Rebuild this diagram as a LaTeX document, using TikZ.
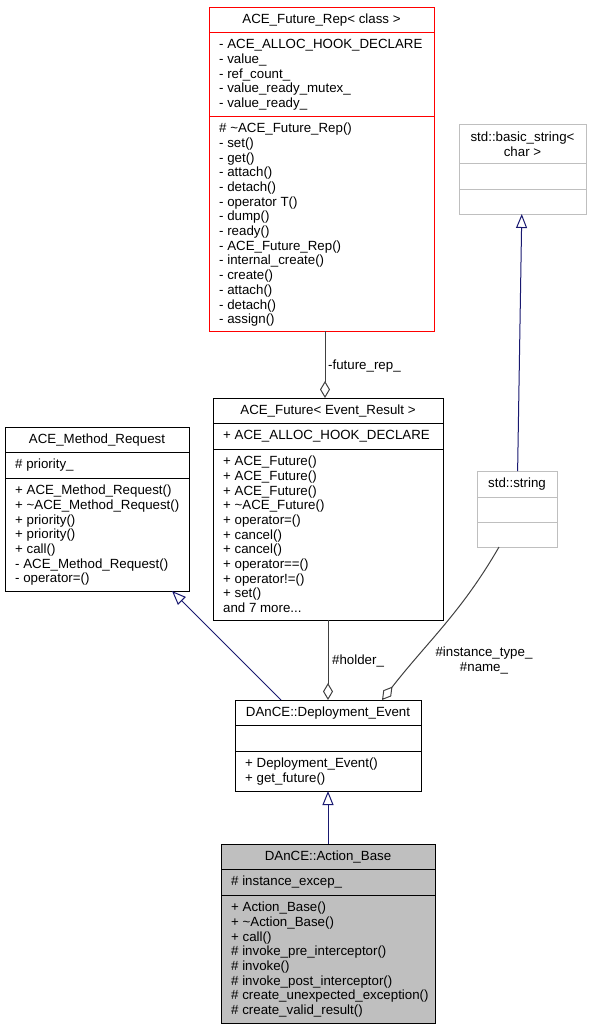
\documentclass[tikz,border=0pt]{standalone}
\usepackage{fontspec}
\setmainfont{Liberation Sans}
\usepackage{tikz}
\usetikzlibrary{arrows.meta}

\definecolor{edgeblue}{HTML}{191970}
\definecolor{edgegrey}{HTML}{404040}
\definecolor{boxgrey}{HTML}{BFBFBF}

\tikzset{
    classbox/.style={draw, line width=1pt, rectangle, inner sep=0pt, outer sep=0pt, anchor=north west},
    classname/.style={anchor=base, inner sep=0pt},
    members/.style={anchor=north west, align=left, inner sep=0pt},
    role/.style={inner sep=0pt},
    inherit/.style={draw=edgeblue, line width=1pt, -{Triangle[open, length=14pt, width=11pt]}},
    compose/.style={draw=edgegrey, line width=1pt, -{Diamond[open, length=17pt, width=10pt]}}
}

\begin{document}
\begin{tikzpicture}[x=1pt, y=-1pt, font=\fontsize{13.3}{14.7}\selectfont]
    \useasboundingbox (0,0) rectangle (591,1029);

    \node[classbox, draw=red, minimum width=225pt, minimum height=324pt] (rep) at (209,7) {};
    \draw[red, line width=1pt] (209,32) -- (434,32) (209,116) -- (434,116);
    \node[classname] (rep-name) at (321.5,23) {ACE\_Future\_Rep< class >};
    \node[members] (rep-attr) at (219,38.2) {\strut- ACE\_ALLOC\_HOOK\_DECLARE\\- value\_\\- ref\_count\_\\- value\_ready\_mutex\_\\- value\_ready\_};
    \node[members] (rep-ops) at (219,122.2) {\strut\# \textasciitilde ACE\_Future\_Rep()\\- set()\\- get()\\- attach()\\- detach()\\- operator T()\\- dump()\\- ready()\\- ACE\_Future\_Rep()\\- internal\_create()\\- create()\\- attach()\\- detach()\\- assign()};

    \node[classbox, draw=boxgrey, minimum width=127pt, minimum height=90pt] (bas) at (459,124) {};
    \draw[boxgrey, line width=1pt] (459,163) -- (586,163) (459,189) -- (586,189);
    \node[classname, anchor=north, align=center] (bas-name) at (522.5,131.2) {\strut std::basic\_string<\\char >};

    \node[classbox, minimum width=184pt, minimum height=164pt] (mreq) at (5,427) {};
    \draw[line width=1pt] (5,452) -- (189,452) (5,478) -- (189,478);
    \node[classname] (mreq-name) at (97,443.5) {ACE\_Method\_Request};
    \node[members] (mreq-attr) at (15,458.2) {\strut\# priority\_};
    \node[members] (mreq-ops) at (15,484.2) {\strut+ ACE\_Method\_Request()\\+ \textasciitilde ACE\_Method\_Request()\\+ priority()\\+ priority()\\+ call()\\- ACE\_Method\_Request()\\- operator=()};

    \node[classbox, minimum width=230pt, minimum height=222pt] (fut) at (213,398) {};
    \draw[line width=1pt] (213,423) -- (443,423) (213,449) -- (443,449);
    \node[classname] (fut-name) at (328,414.5) {ACE\_Future< Event\_Result >};
    \node[members] (fut-attr) at (223,429.2) {\strut+ ACE\_ALLOC\_HOOK\_DECLARE};
    \node[members] (fut-ops) at (223,455.2) {\strut+ ACE\_Future()\\+ ACE\_Future()\\+ ACE\_Future()\\+ \textasciitilde ACE\_Future()\\+ operator=()\\+ cancel()\\+ cancel()\\+ operator==()\\+ operator!=()\\+ set()\\and 7 more...};

    \node[classbox, draw=boxgrey, minimum width=80pt, minimum height=76pt] (str) at (477,471) {};
    \draw[boxgrey, line width=1pt] (477,497) -- (557,497) (477,522) -- (557,522);
    \node[classname] (str-name) at (517,487.5) {std::string};

    \node[classbox, minimum width=186pt, minimum height=91pt] (dep) at (235,700) {};
    \draw[line width=1pt] (235,725) -- (421,725) (235,751) -- (421,751);
    \node[classname] (dep-name) at (328,716.5) {DAnCE::Deployment\_Event};
    \node[members] (dep-ops) at (245,757.2) {\strut+ Deployment\_Event()\\+ get\_future()};

    \node[classbox, fill=boxgrey, minimum width=214pt, minimum height=179pt] (act) at (221,844) {};
    \draw[line width=1pt] (221,869) -- (435,869) (221,895) -- (435,895);
    \node[classname] (act-name) at (328,860.5) {DAnCE::Action\_Base};
    \node[members] (act-attr) at (231,875.2) {\strut\# instance\_excep\_};
    \node[members] (act-ops) at (231,901.2) {\strut+ Action\_Base()\\+ \textasciitilde Action\_Base()\\+ call()\\\# invoke\_pre\_interceptor()\\\# invoke()\\\# invoke\_post\_interceptor()\\\# create\_unexpected\_exception()\\\# create\_valid\_result()};

    \draw[compose] ([xshift=3.5pt]rep.south) -- ([xshift=-3pt]fut.north);
    \draw[compose] (fut) -- (dep);
    \draw[compose] ([xshift=-18pt]str.south) to[out=-120, in=52] ([xshift=54pt]dep.north);
    \draw[inherit] (str) -- (bas);
    \draw[inherit] ([xshift=-47pt]dep.north) -- ([xshift=75pt]mreq.south);
    \draw[inherit] (act) -- (dep);

    \node[role, anchor=base west] (rep-role) at (328,369.5) {-future\_rep\_};
    \node[role, anchor=base west] (fut-role) at (332,664) {\#holder\_};
    \node[role, anchor=north, align=center] (str-role) at (484,646.3) {\strut\#instance\_type\_\\\#name\_};
\end{tikzpicture}
\end{document}
